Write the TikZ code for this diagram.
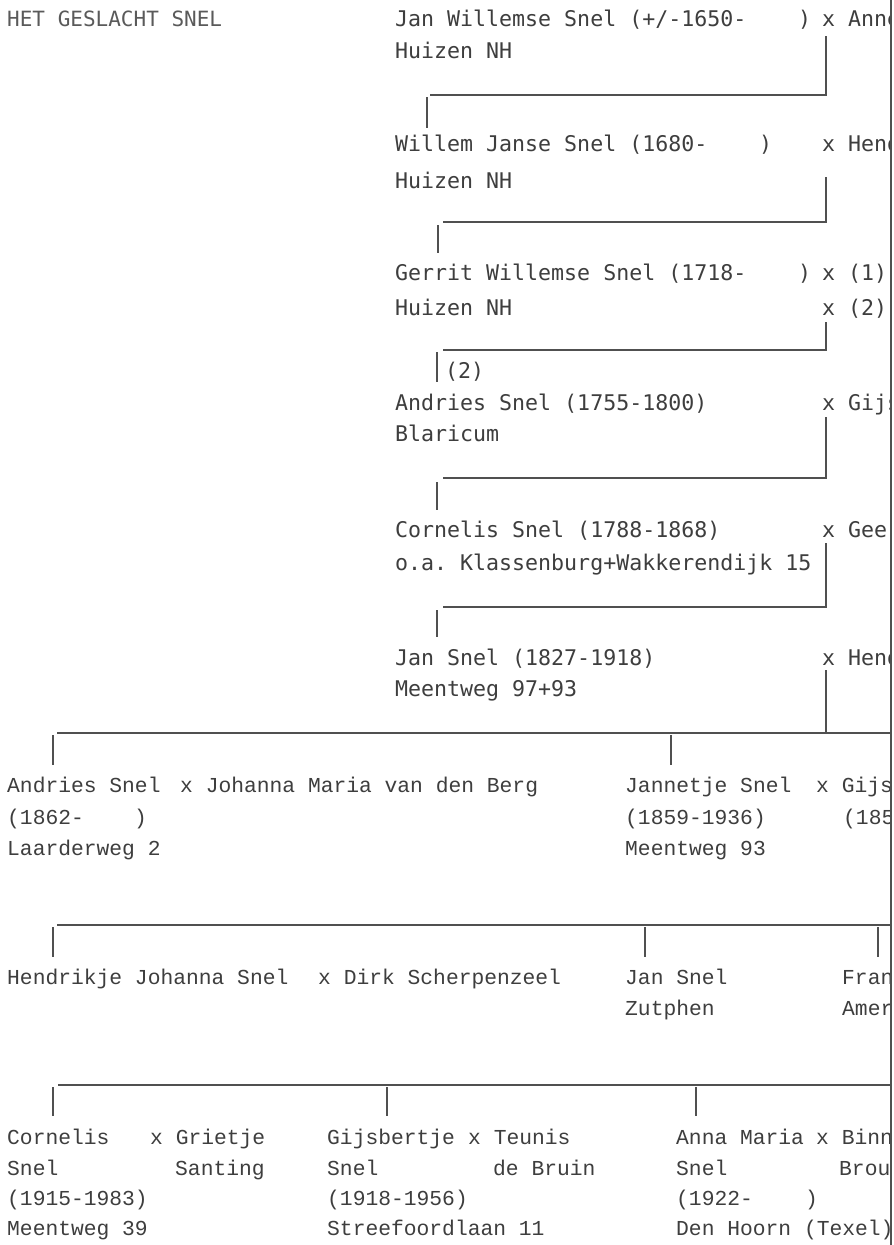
\documentclass[tikz,border=0pt]{standalone}
\usepackage{fontspec}
\newfontfamily\upfont{DejaVu Sans Mono}
\newfontfamily\lowfont{Liberation Mono}
\definecolor{ink}{HTML}{3E3E3E}
\definecolor{titleink}{HTML}{5A5A5A}
\definecolor{rulecol}{HTML}{505050}
\tikzset{
  up/.style={anchor=base west, inner sep=0pt, text=ink, font=\upfont\fontsize{21.6}{26}\selectfont},
  low/.style={anchor=base west, inner sep=0pt, text=ink, font=\lowfont\fontsize{21.3}{26}\selectfont},
  ttl/.style={anchor=base west, inner sep=0pt, text=titleink, font=\upfont\fontsize{21}{26}\selectfont},
  rule/.style={draw=rulecol, line width=1.2pt},
  border/.style={draw=rulecol, line width=2pt}
}
\begin{document}
\frenchspacing
\begin{tikzpicture}[x=1pt,y=-1pt]
\useasboundingbox (0,0) rectangle (894,1245);
\fill[white] (0,0) rectangle (894,1245);
\begin{scope}
\clip (0,0) rectangle (890,1245);
% title
\node[ttl] (title) at (7,26) {HET GESLACHT SNEL};
% generation 1
\node[up] (g1a) at (395,26) {Jan Willemse Snel (+/-1650-};
\node[up] (g1p) at (798,26) {)};
\node[up] (g1x) at (822,26) {x Anne};
\node[up] (g1b) at (395,58) {Huizen NH};
% generation 2
\node[up] (g2a) at (395,151) {Willem Janse Snel (1680-};
\node[up] (g2p) at (759,151) {)};
\node[up] (g2x) at (822,151) {x Hend};
\node[up] (g2b) at (395,188) {Huizen NH};
% generation 3
\node[up] (g3a) at (395,280) {Gerrit Willemse Snel (1718-};
\node[up] (g3p) at (798,280) {)};
\node[up] (g3x) at (822,280) {x (1)};
\node[up] (g3b) at (395,315) {Huizen NH};
\node[up] (g3y) at (822,315) {x (2)};
\node[up] (lab2) at (445,378) {(2)};
% generation 4
\node[up] (g4a) at (395,410) {Andries Snel (1755-1800)};
\node[up] (g4x) at (822,410) {x Gijs};
\node[up] (g4b) at (395,441) {Blaricum};
% generation 5
\node[up] (g5a) at (395,537) {Cornelis Snel (1788-1868)};
\node[up] (g5x) at (822,537) {x Geer};
\node[up] (g5b) at (395,570) {o.a. Klassenburg+Wakkerendijk 15};
% generation 6
\node[up] (g6a) at (395,665) {Jan Snel (1827-1918)};
\node[up] (g6x) at (822,665) {x Hend};
\node[up] (g6b) at (395,696) {Meentweg 97+93};
% generation 7
\node[low] (a1) at (7,792) {Andries Snel};
\node[low] (a1x) at (180,792) {x Johanna Maria van den Berg};
\node[low] (a2) at (7,824) {(1862-};
\node[low] (a2p) at (134,824) {)};
\node[low] (a3) at (7,855) {Laarderweg 2};
\node[low] (j1) at (625,792) {Jannetje Snel};
\node[low] (j1x) at (816,792) {x Gijs};
\node[low] (j2) at (625,824) {(1859-1936)};
\node[low] (j2s) at (843,824) {(185};
\node[low] (j3) at (625,855) {Meentweg 93};
% generation 8
\node[low] (h1) at (7,984) {Hendrikje Johanna Snel};
\node[low] (h1x) at (318,984) {x Dirk Scherpenzeel};
\node[low] (js1) at (625,984) {Jan Snel};
\node[low] (js2) at (625,1015) {Zutphen};
\node[low] (f1) at (842,984) {Fran};
\node[low] (f2) at (842,1015) {Amer};
% generation 9
\node[low] (c1) at (7,1144) {Cornelis};
\node[low] (c1x) at (150,1144) {x Grietje};
\node[low] (c2) at (7,1175) {Snel};
\node[low] (c2s) at (175,1175) {Santing};
\node[low] (c3) at (7,1205) {(1915-1983)};
\node[low] (c4) at (7,1235) {Meentweg 39};
\node[low] (b1) at (327,1144) {Gijsbertje};
\node[low] (b1x) at (468,1144) {x Teunis};
\node[low] (b2) at (327,1175) {Snel};
\node[low] (b2s) at (493,1175) {de Bruin};
\node[low] (b3) at (327,1205) {(1918-1956)};
\node[low] (b4) at (327,1235) {Streefoordlaan 11};
\node[low] (m1) at (676,1144) {Anna Maria};
\node[low] (m1x) at (816,1144) {x Binn};
\node[low] (m2) at (676,1175) {Snel};
\node[low] (m2s) at (839,1175) {Brou};
\node[low] (m3) at (676,1205) {(1922-};
\node[low] (m3p) at (805,1205) {)};
\node[low] (m4) at (676,1235) {Den Hoorn (Texel)};

% upper connectors
\coordinate (v1t) at (826,36);  \coordinate (v1b) at (826,95);  \coordinate (h1l) at (430,95);
\coordinate (d1t) at (427,97);  \coordinate (d1b) at (427,128);
\coordinate (v2t) at (826,177); \coordinate (v2b) at (826,222); \coordinate (h2l) at (443,222);
\coordinate (d2t) at (438,225); \coordinate (d2b) at (438,253);
\coordinate (v3t) at (826,322); \coordinate (v3b) at (826,350); \coordinate (h3l) at (443,350);
\coordinate (d3t) at (437,352); \coordinate (d3b) at (437,382);
\coordinate (v4t) at (826,417); \coordinate (v4b) at (826,478); \coordinate (h4l) at (443,478);
\coordinate (d4t) at (437,482); \coordinate (d4b) at (437,510);
\coordinate (v5t) at (826,543); \coordinate (v5b) at (826,607); \coordinate (h5l) at (443,607);
\coordinate (d5t) at (437,610); \coordinate (d5b) at (437,637);
\foreach \i in {1,...,5}{
  \draw[rule] (v\i t) -- (v\i b) -- (h\i l);
  \draw[rule] (d\i t) -- (d\i b);
}
\coordinate (v6t) at (826,670); \coordinate (v6b) at (826,733);
\draw[rule] (v6t) -- (v6b);
% lower bars
\coordinate (L1l) at (57,733);  \coordinate (L1r) at (891,733);
\coordinate (L2l) at (57,925);  \coordinate (L2r) at (891,925);
\coordinate (L3l) at (58,1085); \coordinate (L3r) at (891,1085);
\draw[rule] (L1l) -- (L1r);
\draw[rule] (L2l) -- (L2r);
\draw[rule] (L3l) -- (L3r);
\foreach \x [count=\k] in {53,671}{
  \coordinate (p1\k t) at (\x,735); \coordinate (p1\k b) at (\x,765);
  \draw[rule] (p1\k t) -- (p1\k b);
}
\foreach \x [count=\k] in {53,645,878}{
  \coordinate (p2\k t) at (\x,927); \coordinate (p2\k b) at (\x,957);
  \draw[rule] (p2\k t) -- (p2\k b);
}
\foreach \x [count=\k] in {53,387,696}{
  \coordinate (p3\k t) at (\x,1087); \coordinate (p3\k b) at (\x,1116);
  \draw[rule] (p3\k t) -- (p3\k b);
}
\end{scope}
% right edge
\coordinate (edget) at (891,0); \coordinate (edgeb) at (891,1245);
\draw[border] (edget) -- (edgeb);
\end{tikzpicture}
\end{document}
